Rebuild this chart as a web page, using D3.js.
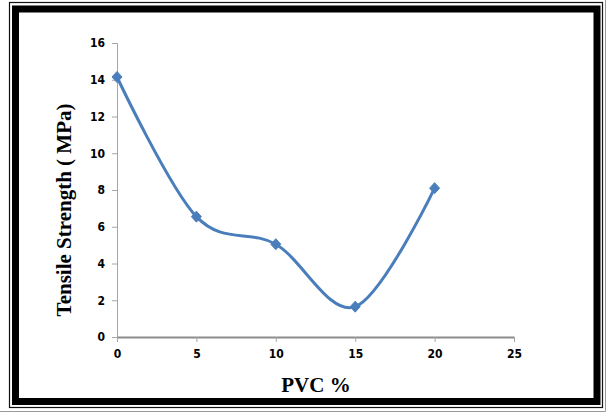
<!DOCTYPE html>
<html><head><meta charset="utf-8">
<script src="https://cdn.jsdelivr.net/npm/d3@7"></script>
<style>html,body{margin:0;padding:0;background:#fff;}svg{display:block;}</style>
</head><body>
<svg id="c" width="606" height="412"></svg>
<script>
const pvc = [0, 5, 10, 15, 20];
const tensile = [14.15, 6.55, 5.05, 1.65, 8.1];
const xTicks = [0, 5, 10, 15, 20, 25];
const yTicks = [0, 2, 4, 6, 8, 10, 12, 14, 16];

const svg = d3.select("#c");
// frame
svg.append("rect").attr("x",9.5).attr("y",2.5).attr("width",593).attr("height",405)
  .attr("fill","none").attr("stroke","#111").attr("stroke-width",1.2);
svg.append("rect").attr("x",15.5).attr("y",9).attr("width",581.5).attr("height",392.5)
  .attr("fill","none").attr("stroke","#000").attr("stroke-width",7);
svg.append("path").attr("d","M605.5,0V411.5H0").attr("fill","none").attr("stroke","#999").attr("stroke-width",1);

const x = d3.scaleLinear().domain([0,25]).range([117,514]);
const y = d3.scaleLinear().domain([0,16]).range([337,43]);

const tickFont = "'Liberation Sans Narrow','DejaVu Sans Condensed',Arial,sans-serif";

// y axis
const gy = svg.append("g").attr("transform","translate(117,0)")
  .call(d3.axisLeft(y).tickValues(yTicks).tickSize(5).tickPadding(7).tickFormat(d3.format("d")));
gy.select(".domain").attr("stroke","#a6a6a6").attr("stroke-width",1);
gy.selectAll(".tick line").attr("stroke","#a6a6a6");
gy.selectAll("text").attr("font-family",tickFont).attr("font-weight","bold").attr("font-size",12).attr("fill","#000");

// x axis
const gx = svg.append("g").attr("transform","translate(0,337)")
  .call(d3.axisBottom(x).tickValues(xTicks).tickSize(5).tickPadding(7).tickSizeOuter(0).tickFormat(d3.format("d")));
gx.select(".domain").attr("stroke","#8c8c8c").attr("stroke-width",2.2);
gx.selectAll(".tick line").attr("stroke","#a6a6a6");
gx.selectAll("text").attr("font-family",tickFont).attr("font-weight","bold").attr("font-size",12).attr("fill","#000");

// titles
svg.append("text").attr("x",316).attr("y",392).attr("text-anchor","middle")
  .attr("font-family","'Liberation Serif','Times New Roman',serif").attr("font-weight","bold")
  .attr("font-size",21).text("PVC %");
svg.append("text").attr("transform","translate(71,210) rotate(-90)").attr("text-anchor","middle")
  .attr("font-family","'Liberation Serif','Times New Roman',serif").attr("font-weight","bold")
  .attr("font-size",21).text("Tensile Strength ( MPa)");

// line
const data = pvc.map((v,i)=>({x:v,y:tensile[i]}));
const line = d3.line().x(d=>x(d.x)).y(d=>y(d.y)).curve(d3.curveCardinal.tension(0));
svg.append("path").datum(data).attr("d",line).attr("fill","none")
  .attr("stroke","#4a7ebb").attr("stroke-width",3).attr("stroke-linejoin","round");

svg.selectAll(".m").data(data).enter().append("path")
  .attr("transform",d=>`translate(${x(d.x)},${y(d.y)})`)
  .attr("d","M0,-5.5L5,0L0,5.5L-5,0Z").attr("fill","#4a7ebb").attr("stroke","#4a7ebb").attr("stroke-width",1);
</script>
</body></html>
